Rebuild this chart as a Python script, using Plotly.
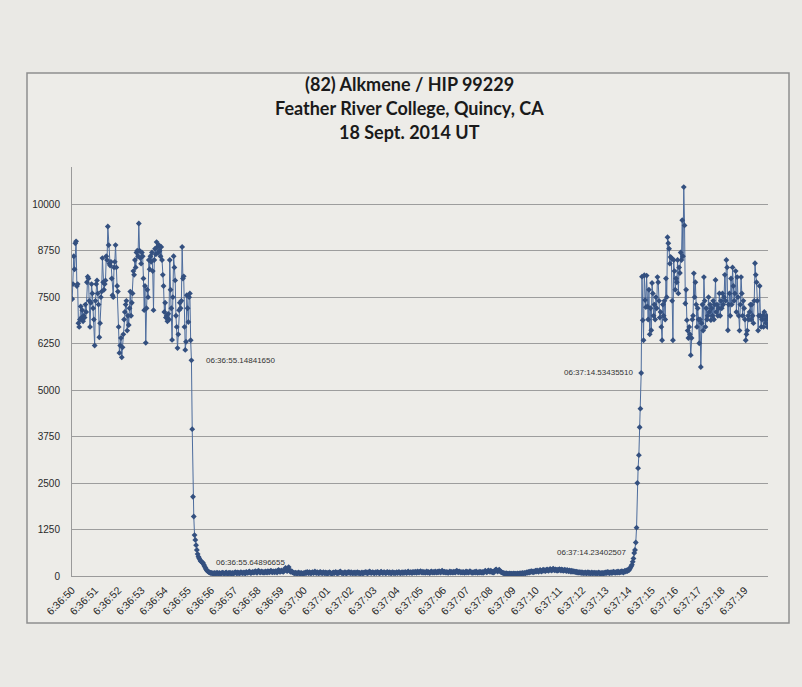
import numpy as np
import plotly.graph_objects as go

# Occultation of HIP 99229 by (82) Alkmene, video photometry, one value per frame.
FRAME = 0.03337  # seconds between frames
EPOCH = "6:36:50"

# Timestamps of the four marked frames (disappearance / reappearance)
label_times = ["06:36:55.14841650", "06:36:55.64896655",
               "06:37:14.23402507", "06:37:14.53435510"]

tick_labels = ["6:36:50", "6:36:51", "6:36:52", "6:36:53", "6:36:54", "6:36:55",
               "6:36:56", "6:36:57", "6:36:58", "6:36:59", "6:37:00", "6:37:01",
               "6:37:02", "6:37:03", "6:37:04", "6:37:05", "6:37:06", "6:37:07",
               "6:37:08", "6:37:09", "6:37:10", "6:37:11", "6:37:12", "6:37:13",
               "6:37:14", "6:37:15", "6:37:16", "6:37:17", "6:37:18", "6:37:19"]

# Star + asteroid before the event; last value is the first marked frame
pre_event = [7450, 7850, 8600, 8250, 8950, 9000, 7800, 7850, 6800, 6700, 6900,
             7250, 6950, 7150, 6850, 7000, 6950, 7300, 7100, 7900, 8050, 8000, 7400, 6700,
             7350, 7850, 7600, 7200, 6900, 6200, 7400, 7850, 7950, 7600, 7300, 6420, 6800,
             7500, 7650, 8550, 7900, 7700, 7850, 7950, 8600, 8500, 9400, 8900, 8400, 8350,
             8450, 8000, 7550, 7500, 8300, 8450, 8900, 8300, 7800, 7650, 6700, 6000, 6200,
             6400, 5880, 6150, 6500, 6900, 7100, 7300, 7400, 6600, 7000, 6750, 7200, 7650,
             7000, 7350, 7600, 8200, 8100, 8500, 8300, 8700, 8750, 8600, 9480, 8750, 8550,
             8400, 8700, 8600, 8000, 7150, 7800, 6270, 7200, 7700, 7500, 8500, 8250,
             8600, 8450, 8700, 8200, 7150, 8500, 8800, 8650, 8980, 8850, 8700, 8900, 8750,
             8600, 8850, 8500, 8100, 7800, 7100, 7350, 6950, 7000, 6850, 7050, 6900, 8500,
             7700, 7200, 6350, 7500, 8600, 8300, 7950, 7000, 6700, 6130, 6500, 7150, 7350,
             7200, 7400, 8850, 8000, 8060, 6700, 6080, 6300, 7550, 7200, 6830, 7500, 7600,
             6340, 5800]

# Disappearance; last value is the second marked frame
disappearance = [3950, 2130, 1600, 1100, 970, 830, 700, 590, 520, 480, 440, 400, 380, 360, 350]

# Star hidden: asteroid alone; last value is the third marked frame
occulted = [300, 260, 220, 180, 150, 130, 110, 100, 90, 80, 85, 70, 75,
            60, 80, 70, 65, 90, 75, 60, 85, 70, 60, 75, 90, 80,
            70, 60, 85, 95, 70, 60, 80, 75, 90, 65, 70, 85, 60,
            75, 90, 100, 80, 70, 95, 85, 70, 80, 105, 90, 75, 85,
            95, 80, 70, 110, 90, 85, 100, 120, 95, 80, 90, 110, 100,
            90, 115, 130, 100, 85, 120, 140, 110, 95, 105, 125, 100, 90,
            110, 95, 120, 105, 90, 130, 115, 100, 120, 145, 110, 100, 125,
            115, 100, 130, 120, 95, 140, 160, 120, 110, 135, 150, 125, 110,
            140, 170, 220, 150, 130, 180, 240, 160, 120, 110, 130, 100, 90,
            80, 70, 90, 75, 60, 80, 95, 70, 65, 85, 75, 60, 70,
            85, 70, 95, 80, 110, 90, 75, 100, 85, 70, 90, 105, 80,
            95, 120, 90, 80, 105, 85, 70, 95, 110, 80, 90, 75, 100,
            85, 70, 95, 80, 65, 90, 75, 100, 85, 70, 60, 80, 95,
            75, 90, 110, 85, 70, 95, 80, 100, 120, 90, 75, 85, 70,
            90, 105, 80, 70, 95, 85, 110, 90, 75, 100, 85, 70, 90,
            80, 95, 70, 85, 100, 75, 90, 80, 65, 85, 95, 70, 80,
            95, 85, 110, 90, 70, 100, 85, 120, 95, 80, 90, 105, 85,
            75, 90, 100, 80, 110, 95, 85, 70, 100, 115, 90, 80, 95,
            100, 85, 75, 95, 110, 90, 80, 100, 85, 70, 95, 105, 80,
            90, 75, 85, 100, 80, 95, 110, 85, 75, 90, 100, 80, 95,
            85, 110, 95, 80, 100, 120, 90, 85, 105, 95, 80, 110, 100,
            90, 115, 100, 85, 120, 105, 95, 110, 130, 100, 90, 115, 95,
            105, 85, 100, 120, 90, 110, 95, 80, 105, 125, 100, 90, 110,
            95, 120, 105, 90, 115, 100, 130, 110, 95, 120, 140, 105, 100,
            115, 100, 90, 110, 95, 85, 105, 120, 95, 110, 100, 90, 115,
            105, 95, 120, 140, 115, 100, 125, 110, 95, 105, 90, 110, 100,
            85, 100, 120, 95, 110, 90, 105, 130, 110, 95, 85, 100, 90,
            110, 95, 120, 100, 85, 105, 90, 115, 100, 95, 110, 85, 100,
            120, 140, 110, 100, 130, 150, 125, 110, 140, 120, 100, 115, 95,
            130, 160, 180, 140, 120, 150, 170, 130, 110, 100, 90, 80, 75,
            70, 60, 75, 55, 65, 50, 70, 60, 55, 65, 50, 60, 70,
            55, 65, 50, 60, 70, 55, 65, 75, 60, 70, 80, 65, 75,
            85, 70, 90, 100, 85, 110, 95, 120, 105, 130, 115, 100, 125,
            110, 140, 120, 150, 130, 115, 145, 160, 135, 120, 150, 170, 140,
            155, 130, 165, 180, 150, 140, 170, 190, 160, 145, 175, 200, 165,
            150, 180, 160, 140, 170, 155, 185, 165, 145, 175, 160, 140, 155,
            170, 150, 130, 160, 145, 125, 150, 135, 115, 140, 120, 130, 110,
            125, 105, 115, 95, 110, 90, 100, 85, 105, 80, 95, 75, 90,
            80, 95, 70, 85, 100, 75, 90, 65, 80, 95, 70, 85, 75,
            90, 70, 85, 65, 80, 95, 75, 60, 85, 70, 80, 65, 90,
            75, 95, 80, 110, 85, 100, 75, 90, 105, 80, 95, 115, 90,
            100, 85, 110, 95, 120, 100, 90, 115, 105, 130, 110, 95, 120,
            140, 120, 150, 130, 170, 150, 190, 220, 260, 300, 380, 470, 620]

# Reappearance; last value is the fourth marked frame
reappearance = [700, 900, 1300, 2500, 2900, 3250, 4000, 4500, 5460]

# Star + asteroid after the event
post_event = [8050, 6880, 6340, 8090, 7420, 7230, 8080, 7250, 6900, 7700, 6500,
              7200, 6610, 7880, 7600, 7000, 7300, 6900, 7500, 7200, 8040, 7900, 7400, 6950,
              7100, 6700, 6340, 7300, 7000, 7400, 6900, 8000, 7500, 9110, 8950, 8800, 8400,
              8580, 8550, 7400, 6340, 8500, 8200, 7700, 8000, 7900, 8500, 7600, 8300, 8150,
              8700, 8500, 9570, 8600, 10460, 9430, 7330, 7700, 6880, 6600, 6400, 6700, 6500,
              5940, 6400, 6900, 7000, 8140, 7500, 7900, 7300, 6700, 7200, 6900, 6260, 6900,
              5620, 6800, 7300, 6600, 8040, 7400, 6700, 7200, 6900, 7000, 7500, 7100, 7300,
              6880, 7200, 7000, 7400, 6900, 7300, 7960, 7100, 7300, 7000, 7200, 7600, 7000,
              7400, 7200, 7600, 7300, 7500, 8100, 7400, 8500, 8300, 6610, 7300, 7600, 7000,
              8000, 7300, 8300, 7800, 7400, 7600, 8200, 7100, 8040, 7500, 7000, 6600, 7300,
              8040, 7600, 7000, 7400, 7200, 6900, 6340, 6500, 6600, 7000, 6900, 7100, 7300,
              6900, 7300, 7000, 6800, 7400, 8410, 8100, 7900, 7400, 6600, 7000, 7800, 7000,
              6700, 6900, 7000, 6700, 7100, 6900, 6800, 7000, 6700, 6900]


def seconds_after_epoch(stamp):
    h, m, s = stamp.split(":")
    eh, em, es = EPOCH.split(":")
    return (int(h) * 3600 + int(m) * 60 + float(s)) - (int(eh) * 3600 + int(em) * 60 + float(es))


t_mark = [seconds_after_epoch(s) for s in label_times]

# Frame times for each stretch, anchored on the marked frames
t_pre = t_mark[0] - FRAME * np.arange(len(pre_event) - 1, -1, -1)
t_dis = np.linspace(t_mark[0], t_mark[1], len(disappearance) + 1)[1:]
t_occ = np.linspace(t_mark[1], t_mark[2], len(occulted) + 1)[1:]
t_rea = np.linspace(t_mark[2], t_mark[3], len(reappearance) + 1)[1:]
t_post = t_mark[3] + FRAME * np.arange(1, len(post_event) + 1)

t_all = np.concatenate([t_pre, t_dis, t_occ, t_rea, t_post])
v_all = np.concatenate([pre_event, disappearance, occulted, reappearance, post_event])

marked = [(t_pre[-1], pre_event[-1]), (t_dis[-1], disappearance[-1]),
          (t_occ[-1], occulted[-1]), (t_rea[-1], reappearance[-1])]

W, H = 802, 687
L, R, T, B = 72, 34, 167, 111
PW, PH = W - L - R, H - T - B


def px_x(x):
    return (x - L) / PW


def px_y(y):
    return (H - B - y) / PH


fig = go.Figure()
fig.add_trace(go.Scatter(
    x=t_all, y=v_all, mode="lines+markers",
    line=dict(color="#4d6c9d", width=1),
    marker=dict(symbol="diamond", size=4.5, color="#34507f"),
    hoverinfo="skip", showlegend=False,
))

annotations = []
# frame timestamps beside the marked points
sides = [("left", 13), ("left", 11), ("right", -5), ("right", -5)]
for (x, y), stamp, (anchor, shift) in zip(marked, label_times, sides):
    annotations.append(dict(
        x=x, y=y, xref="x", yref="y", text=stamp, showarrow=False,
        xanchor=anchor, yanchor="middle", xshift=shift,
        font=dict(family="Liberation Sans, Arial", size=8, color="#333333"),
    ))

title_lines = ["(82) Alkmene / HIP 99229", "Feather River College, Quincy, CA", "18 Sept. 2014 UT"]
for line, yc in zip(title_lines, [84, 108, 132]):
    annotations.append(dict(
        x=px_x(409), y=px_y(yc), xref="paper", yref="paper",
        text="<b>%s</b>" % line, showarrow=False, xanchor="center", yanchor="middle",
        font=dict(family="Lato, Open Sans, sans-serif", size=18, color="#1a1a1a"),
    ))

fig.update_layout(
    width=W, height=H,
    margin=dict(l=L, r=R, t=T, b=B, pad=0),
    paper_bgcolor="#eae9e5",
    plot_bgcolor="rgba(0,0,0,0)",
    annotations=annotations,
    shapes=[dict(
        type="rect", xref="paper", yref="paper", layer="below",
        x0=px_x(27), x1=px_x(789), y0=px_y(623), y1=px_y(73),
        line=dict(color="#8e8e8e", width=1.5), fillcolor="#edece8",
    )],
    xaxis=dict(
        range=[0, 30], tickvals=list(range(len(tick_labels))), ticktext=tick_labels,
        tickangle=-45, showgrid=False, zeroline=False,
        showline=True, linecolor="#9a9a9a", linewidth=1,
        ticks="", ticklabelstandoff=3,
        tickfont=dict(family="Liberation Sans, Arial", size=10.5, color="#2a2a2a"),
    ),
    yaxis=dict(
        range=[0, 11000], tick0=0, dtick=1250, tickformat="d",
        showgrid=True, gridcolor="#9d9d9d", gridwidth=1, zeroline=False,
        showline=True, linecolor="#9a9a9a", linewidth=1,
        ticks="", ticklabelstandoff=9,
        tickfont=dict(family="Liberation Sans, Arial", size=10, color="#2a2a2a"),
    ),
)

fig.write_html("out.html")
